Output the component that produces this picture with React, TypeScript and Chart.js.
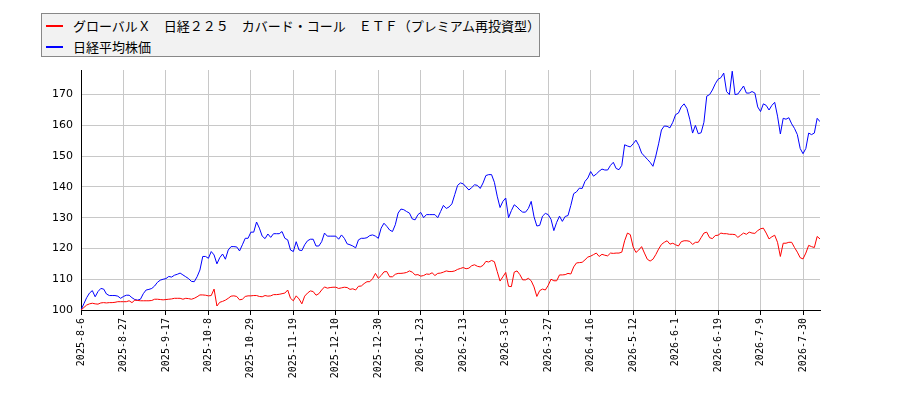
import React, { useRef, useEffect } from "react";
import Chart from "chart.js/auto";

const seriesNames = [
  "グローバルＸ　日経２２５　カバード・コール　ＥＴＦ（プレミアム再投資型）",
  "日経平均株価",
];

// one tick label every 15 trading days
const tickLabels = [
  "2025-8-6", "2025-8-27", "2025-9-17", "2025-10-8", "2025-10-29", "2025-11-19",
  "2025-12-10", "2025-12-30", "2026-1-23", "2026-2-13", "2026-3-6", "2026-3-27",
  "2026-4-16", "2026-5-12", "2026-6-1", "2026-6-19", "2026-7-9", "2026-7-30",
];
const tickEvery = 15;

const etfValues = [
  100, 100.8, 101.6, 102, 102.2, 102, 101.9, 102.3, 102.4, 102.3,
  102.4, 102.4, 102.5, 102.7, 102.7, 102.7, 102.7, 103, 102.4, 103.2,
  103.1, 103, 103, 103, 103, 103.1, 103.5, 103.5, 103.4, 103.3,
  103.4, 103.5, 103.6, 103.8, 103.8, 103.8, 103.5, 103.8, 103.7, 103.5,
  103.8, 104.3, 104.9, 104.9, 104.8, 104.6, 104.7, 106.8, 101.3, 102.5,
  102.8, 103.2, 103.8, 104.5, 104.6, 104.4, 103.3, 103.5, 104.4, 104.6,
  104.6, 104.7, 104.7, 104.4, 104.3, 104.7, 104.5, 104.6, 105, 105,
  105.1, 105.3, 105.5, 106.5, 103.8, 103, 104.6, 103.6, 102, 104.5,
  105.5, 106.2, 106, 104.8, 105.3, 106.5, 107.5, 107.1, 107.3, 107.4,
  107.4, 107, 107.2, 107.4, 107.3, 106.7, 106.9, 106.5, 107.7, 107.8,
  108.6, 109.2, 109.2, 110.2, 111.9, 110.3, 111.2, 112.4, 112.5, 110.8,
  110.8, 111.6, 111.9, 111.9, 112, 112.2, 112.7, 112.3, 111.4, 111.5,
  111, 111.2, 111.7, 111.6, 112.1, 111.2, 111.9, 112, 112.3, 112.7,
  112.5, 112.5, 112.7, 113.2, 113.5, 113.8, 113.4, 113.6, 114.4, 114.7,
  114.2, 114, 114.5, 115.8, 115.6, 116.1, 115.7, 112.5, 109.4, 110.8,
  112.2, 107.7, 107.6, 112.3, 112.7, 111.5, 109.8, 109.8, 110.3, 109.5,
  107.5, 104.4, 106.3, 106.8, 106.5, 108, 110, 109.5, 109.5, 111.4,
  111.4, 111.5, 111.9, 111.7, 114, 115.3, 115.4, 115.5, 116.3, 117.2,
  117.5, 118, 118.5, 117.4, 118.1, 117.8, 117.6, 118.5, 118.4, 118.5,
  118.5, 118.8, 122.5, 125, 124.5, 120.5, 118.7, 119.5, 120.6, 118.5,
  116.5, 115.9, 116.5, 118, 119.8, 121.3, 122, 122.5, 121.4, 121.7,
  121.2, 120.8, 122.2, 122.5, 122.5, 122.3, 121.3, 122, 122, 123.5,
  125, 125.3, 123.5, 123.2, 124.2, 124.3, 125, 124.8, 124.8, 124.6,
  124.6, 124.5, 123.6, 124.3, 125, 124.6, 125.3, 125, 124.9, 125.8,
  126.4, 126.6, 125, 123.1, 123.8, 124.3, 122, 117.4, 121.7, 121.7,
  122, 122, 120.3, 118.8, 117, 116.6, 118.5, 121, 120.6, 120.3,
  123.9, 123.1,
];

const nikkeiValues = [
  100, 102, 104, 105.5, 106.3, 104.3, 106, 107, 106.8, 105.2,
  104.7, 104.7, 104.7, 104.5, 103.8, 104.4, 104.8, 104.8, 104, 103.4,
  103.2, 103.5, 105.3, 106.5, 106.7, 107, 107.8, 109, 109.7, 110,
  110.2, 110.9, 110.7, 111.3, 111.6, 112, 111.4, 110.8, 110.2, 109.3,
  109.2, 110.8, 113, 117.4, 117.4, 116.8, 119, 117.9, 115, 117,
  118.2, 116.5, 119.5, 120.6, 120.6, 120.5, 119.2, 121.2, 123.3, 123.3,
  125.3, 125.3, 128.6, 126.6, 124, 123.2, 124.7, 123.6, 124.8, 124.8,
  124.8, 125.5, 123.3, 122.8, 119.5, 119, 122.2, 119.5, 119.3, 121.2,
  122.5, 123, 123, 120.8, 120.8, 122.2, 125, 124, 124, 124,
  124, 123, 124.4, 123.3, 121.5, 121.2, 120.8, 120.2, 122.8, 123.3,
  123.3, 123.5, 124.2, 124.4, 124, 123.3, 126.6, 128.2, 127.2, 126,
  125.5, 127.7, 131.5, 132.8, 132.6, 132, 131.5, 129.6, 129.3, 131,
  131.7, 130, 131, 131, 131, 131, 130, 132, 134, 133,
  133.5, 134.5, 137.5, 140.5, 141.3, 141, 140, 139, 139.8, 140.7,
  140.5, 139.5, 141.3, 143.7, 144, 144, 141.5, 137, 133.3, 135.3,
  136.4, 130, 132.3, 134.2, 133.5, 132.5, 131.8, 131.8, 133, 135.3,
  130.3, 127.3, 127.5, 130.5, 131.4, 131, 129.5, 125.8, 128.5, 130.5,
  128.8, 130.4, 130.7, 134, 137.8, 138.4, 139.6, 139.5, 141.8, 142.9,
  145, 143.5, 144.2, 145.1, 145.8, 145.5, 145.5, 147, 148, 146,
  145.6, 147, 153.7, 153.3, 153, 154, 155.2, 153.5, 151, 150,
  149, 148, 146.7, 150, 154, 158.5, 159.8, 159.7, 159.2, 161,
  163.5, 164, 166, 167, 165.5, 162, 157.5, 160, 157.3, 157.6,
  161, 169.5, 170, 171.5, 173.5, 175, 175.5, 177, 171, 170,
  177.6, 170, 170.2, 171.5, 172.8, 170.5, 170.5, 171, 170.5, 166,
  164.5, 167, 166.5, 165, 166.5, 167.5, 163, 157.2, 162.3, 162,
  162.5, 160.5, 159, 157, 152.5, 150.8, 152.5, 157.5, 157, 157.5,
  162.3, 161.2,
];

const seriesColors = ["#ff0000", "#0000ff"];

const Legend: React.FC = () => (
  <div
    style={{
      position: "absolute",
      left: 41,
      top: 13,
      width: 497,
      height: 42,
      border: "1px solid #888",
      background: "#f2f2f2",
      fontFamily: '"Noto Sans CJK JP", sans-serif',
      fontSize: 13,
      color: "#000",
    }}
  >
    {seriesNames.map((name, i) => (
      <div
        key={name}
        style={{
          position: "absolute",
          left: 0,
          top: 2 + i * 21,
          height: 19,
          lineHeight: "19px",
          whiteSpace: "nowrap",
        }}
      >
        <span
          style={{
            position: "absolute",
            left: 4,
            top: 9,
            width: 17,
            height: 2,
            background: seriesColors[i],
          }}
        />
        <span style={{ position: "absolute", left: 31, top: 0 }}>{name}</span>
      </div>
    ))}
  </div>
);

const LineChart: React.FC = () => {
  const canvasRef = useRef<HTMLCanvasElement>(null);

  useEffect(() => {
    if (!canvasRef.current) {
      return;
    }
    const chart = new Chart(canvasRef.current, {
      type: "line",
      data: {
        datasets: [etfValues, nikkeiValues].map((values, i) => ({
          label: seriesNames[i],
          data: values.map((v, idx) => ({ x: idx, y: v })),
          borderColor: seriesColors[i],
          borderWidth: 1,
          pointRadius: 0,
          tension: 0,
          fill: false,
        })),
      },
      options: {
        responsive: false,
        animation: false,
        events: [],
        layout: { padding: { left: 0, top: 70, right: 80, bottom: 0 } },
        plugins: {
          legend: { display: false },
          tooltip: { enabled: false },
        },
        scales: {
          x: {
            type: "linear",
            min: 0,
            max: etfValues.length - 1,
            afterBuildTicks: (axis) => {
              axis.ticks = tickLabels.map((_, k) => ({ value: k * tickEvery }));
            },
            afterFit: (axis) => {
              axis.height = 90;
            },
            ticks: {
              autoSkip: false,
              minRotation: 90,
              maxRotation: 90,
              padding: 3,
              color: "#000",
              font: { family: '"DejaVu Sans Mono", monospace', size: 10 },
              callback: (value) => tickLabels[Number(value) / tickEvery] ?? "",
            },
            grid: {
              color: "#c8c8c8",
              tickColor: "#000",
              tickLength: 5,
            },
            border: { color: "#000", width: 1 },
          },
          y: {
            min: 100,
            max: 178,
            afterFit: (axis) => {
              axis.width = 81;
            },
            ticks: {
              stepSize: 10,
              includeBounds: false,
              padding: 8,
              color: "#000",
              font: { family: '"DejaVu Sans", sans-serif', size: 11 },
            },
            grid: {
              color: "#c8c8c8",
              drawTicks: false,
            },
            border: { color: "#000", width: 1 },
          },
        },
      },
    });
    return () => {
      chart.destroy();
    };
  }, []);

  return <canvas ref={canvasRef} width={900} height={400} style={{ display: "block" }} />;
};

export default function App() {
  return (
    <div style={{ position: "absolute", left: 0, top: 0, width: 900, height: 400, background: "#fff" }}>
      <LineChart />
      <Legend />
    </div>
  );
}
